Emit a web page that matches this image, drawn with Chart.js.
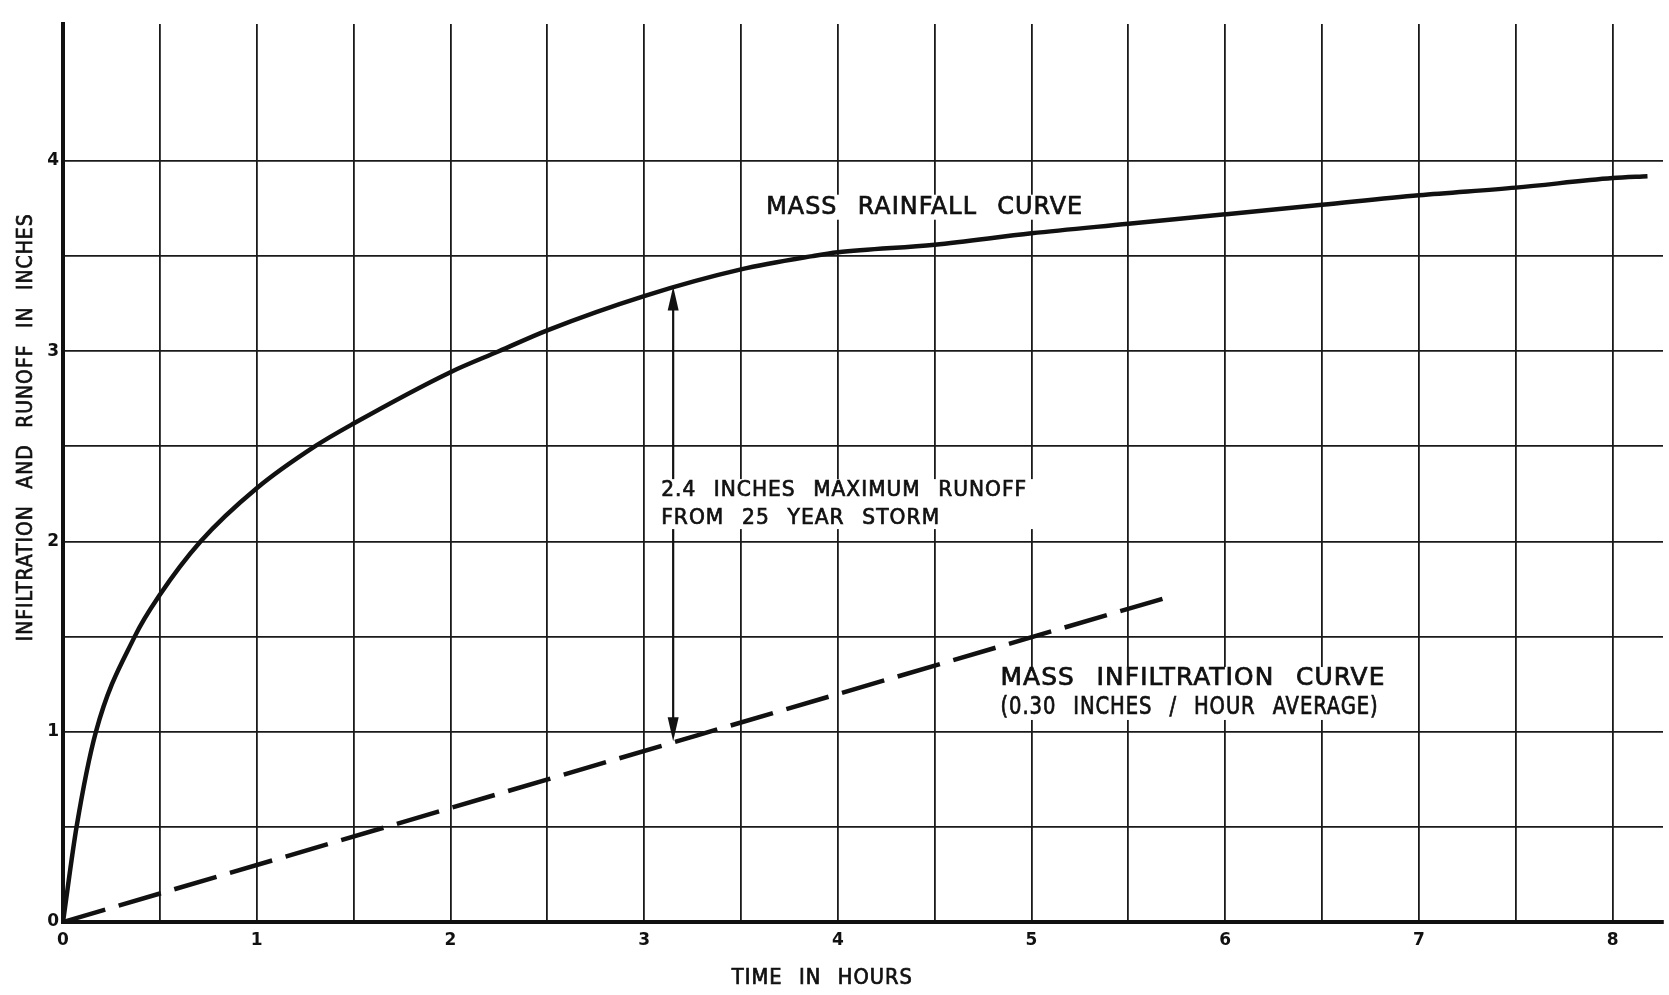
<!DOCTYPE html>
<html>
<head>
<meta charset="utf-8">
<script src="https://cdn.jsdelivr.net/npm/chart.js@4"></script>
<style>
  body { margin: 0; background: #fff; }
  #wrap { width: 1669px; height: 995px; }
</style>
</head>
<body>
<div id="wrap"><canvas id="myChart"></canvas></div>
<script>
// values (hours / inches)
let rainHours = [0, 0.07, 0.17, 0.37, 0.5, 0.71, 1.0, 1.3, 1.5, 2.0, 2.25, 2.5, 3.0, 3.5, 3.87, 4.0, 4.5, 5.0, 5.5, 6.0, 6.5, 7.0, 7.5, 8.0, 8.18];
let rainInches = [0, 0.5, 1.0, 1.5, 1.72, 2.0, 2.28, 2.5, 2.62, 2.89, 3.0, 3.11, 3.29, 3.43, 3.50, 3.52, 3.56, 3.62, 3.67, 3.72, 3.77, 3.82, 3.86, 3.91, 3.92];
let infilHours = [0, 1.67, 3.27, 5.68];
let infilInches = [0, 0.5, 0.98, 1.70];
// tick labels
let hourLabels = [0, 1, 2, 3, 4, 5, 6, 7, 8];
let inchLabels = [0, 1, 2, 3, 4];
// the 2.4 inch runoff arrow (hour, top inch, bottom inch)
let arrowHour = 3.15;
let arrowTop = 3.34;
let arrowBottom = 0.95;

// text notes on the plot, anchored in data units
let notes = [
    { lines: ['MASS RAINFALL CURVE'], x: 3.63, y: [3.757], widths: [317], size: 25 },
    { lines: ['2.4 INCHES MAXIMUM RUNOFF', 'FROM 25 YEAR STORM'], x: 3.088, y: [2.27, 2.123], widths: [366, 279], size: 22 },
    { lines: ['MASS INFILTRATION CURVE', '(0.30 INCHES / HOUR AVERAGE)'], x: 4.84, y: [1.277, 1.125], widths: [385, 378], size: 24 }
];

function toPoints(xs, ys) {
    return xs.map((x, i) => ({ x: x, y: ys[i] }));
}

// draw text squeezed / stretched to a given width (hand lettering is wide)
function fitText(ctx, text, x, y, width) {
    let w = ctx.measureText(text).width;
    ctx.save();
    ctx.translate(x, y);
    ctx.scale(width / w, 1);
    ctx.fillText(text, 0, 0);
    ctx.lineWidth = 0.7;
    ctx.strokeText(text, 0, 0);
    ctx.restore();
}

// grid every half unit, up to the last whole unit
function halfSteps(scale) {
    let ticks = [];
    for (let i = 0; i * 0.5 <= Math.floor(scale.max); i++) {
        ticks.push({ value: i * 0.5 });
    }
    scale.ticks = ticks;
}

function lettering(ctx, size) {
    ctx.font = size + 'px "DejaVu Sans Condensed"';
    ctx.letterSpacing = '1px';
    ctx.wordSpacing = Math.round(size * 0.45) + 'px';
}

let notesPlugin = {
    id: 'notes',
    beforeDraw(chart) {
        let ctx = chart.ctx;
        ctx.save();
        ctx.fillStyle = '#fff';
        ctx.fillRect(0, 0, chart.width, chart.height);
        ctx.restore();
    },
    beforeDatasetsDraw(chart) {
        let ctx = chart.ctx;
        let xs = chart.scales.x, ys = chart.scales.y;
        // arrow between the two curves
        let ax = xs.getPixelForValue(arrowHour);
        let top = ys.getPixelForValue(arrowTop);
        let bot = ys.getPixelForValue(arrowBottom);
        let head = 24;
        ctx.save();
        ctx.strokeStyle = '#111';
        ctx.fillStyle = '#111';
        ctx.lineWidth = 2.2;
        ctx.beginPath();
        ctx.moveTo(ax, top + head - 2);
        ctx.lineTo(ax, bot - head + 2);
        ctx.stroke();
        ctx.beginPath();
        ctx.moveTo(ax, top);
        ctx.lineTo(ax - 5.5, top + head);
        ctx.lineTo(ax + 5.5, top + head);
        ctx.closePath();
        ctx.fill();
        ctx.beginPath();
        ctx.moveTo(ax, bot);
        ctx.lineTo(ax - 5.5, bot - head);
        ctx.lineTo(ax + 5.5, bot - head);
        ctx.closePath();
        ctx.fill();
        // white patches behind the lettering
        ctx.fillStyle = '#fff';
        notes.forEach(n => {
            let x0 = xs.getPixelForValue(n.x) - 6;
            let w = Math.max(...n.widths) + 12;
            let yTop = ys.getPixelForValue(n.y[0]) - n.size * 0.5;
            let yBot = ys.getPixelForValue(n.y[n.y.length - 1]) + n.size * 0.5;
            ctx.fillRect(x0, yTop, w, yBot - yTop);
        });
        ctx.restore();
    },
    afterDatasetsDraw(chart) {
        let ctx = chart.ctx;
        let xs = chart.scales.x, ys = chart.scales.y;
        let area = chart.chartArea;
        ctx.save();
        ctx.fillStyle = '#111';
        ctx.strokeStyle = '#111';
        ctx.textAlign = 'left';
        ctx.textBaseline = 'middle';
        notes.forEach(n => {
            lettering(ctx, n.size);
            n.lines.forEach((line, i) => {
                fitText(ctx, line, xs.getPixelForValue(n.x), ys.getPixelForValue(n.y[i]), n.widths[i]);
            });
        });
        // axis titles
        lettering(ctx, 21);
        let tx = xs.getPixelForValue(3.92);
        let tw = 181;
        fitText(ctx, 'TIME IN HOURS', tx - tw / 2, area.bottom + 57, tw);
        lettering(ctx, 22);
        ctx.translate(area.left - 37, ys.getPixelForValue(2.6));
        ctx.rotate(-Math.PI / 2);
        fitText(ctx, 'INFILTRATION AND RUNOFF IN INCHES', -214, 0, 428);
        ctx.restore();
    }
};

let ctx = document.getElementById('myChart').getContext('2d');
let xchart = new Chart(ctx, {
    type: 'line',
    data: {
        datasets: [{
            label: 'Mass rainfall curve',
            data: toPoints(rainHours, rainInches),
            borderColor: '#111',
            borderWidth: 4.5,
            pointRadius: 0,
            cubicInterpolationMode: 'monotone',
            fill: false
        }, {
            label: 'Mass infiltration curve',
            data: toPoints(infilHours, infilInches),
            borderColor: '#111',
            borderWidth: 4.5,
            borderDash: [44, 14],
            pointRadius: 0,
            fill: false
        }]
    },
    options: {
        responsive: true,
        maintainAspectRatio: false,
        animation: false,
        layout: { padding: { top: 24, right: 6, left: 0, bottom: 0 } },
        plugins: {
            legend: { display: false },
            tooltip: { enabled: false }
        },
        scales: {
            x: {
                type: 'linear',
                min: 0,
                max: 8.26,
                afterBuildTicks: halfSteps,
                afterFit: s => { s.height = 73; },
                grid: { color: '#1a1a1a', lineWidth: 1.8, drawTicks: false },
                border: { color: '#111', width: 4 },
                ticks: {
                    autoSkip: false,
                    maxRotation: 0,
                    padding: 8,
                    color: '#111',
                    font: { family: 'DejaVu Sans', size: 17, weight: 'bold' },
                    callback: v => hourLabels.includes(v) ? String(v) : ''
                }
            },
            y: {
                min: 0,
                max: 4.72,
                afterBuildTicks: halfSteps,
                afterFit: s => { s.width = 63; },
                grid: { color: '#1a1a1a', lineWidth: 1.8, drawTicks: false },
                border: { color: '#111', width: 4 },
                ticks: {
                    autoSkip: false,
                    padding: 4,
                    color: '#111',
                    font: { family: 'DejaVu Sans', size: 17, weight: 'bold' },
                    callback: v => inchLabels.includes(v) ? String(v) : ''
                }
            }
        }
    },
    plugins: [notesPlugin]
});
</script>
</body>
</html>
